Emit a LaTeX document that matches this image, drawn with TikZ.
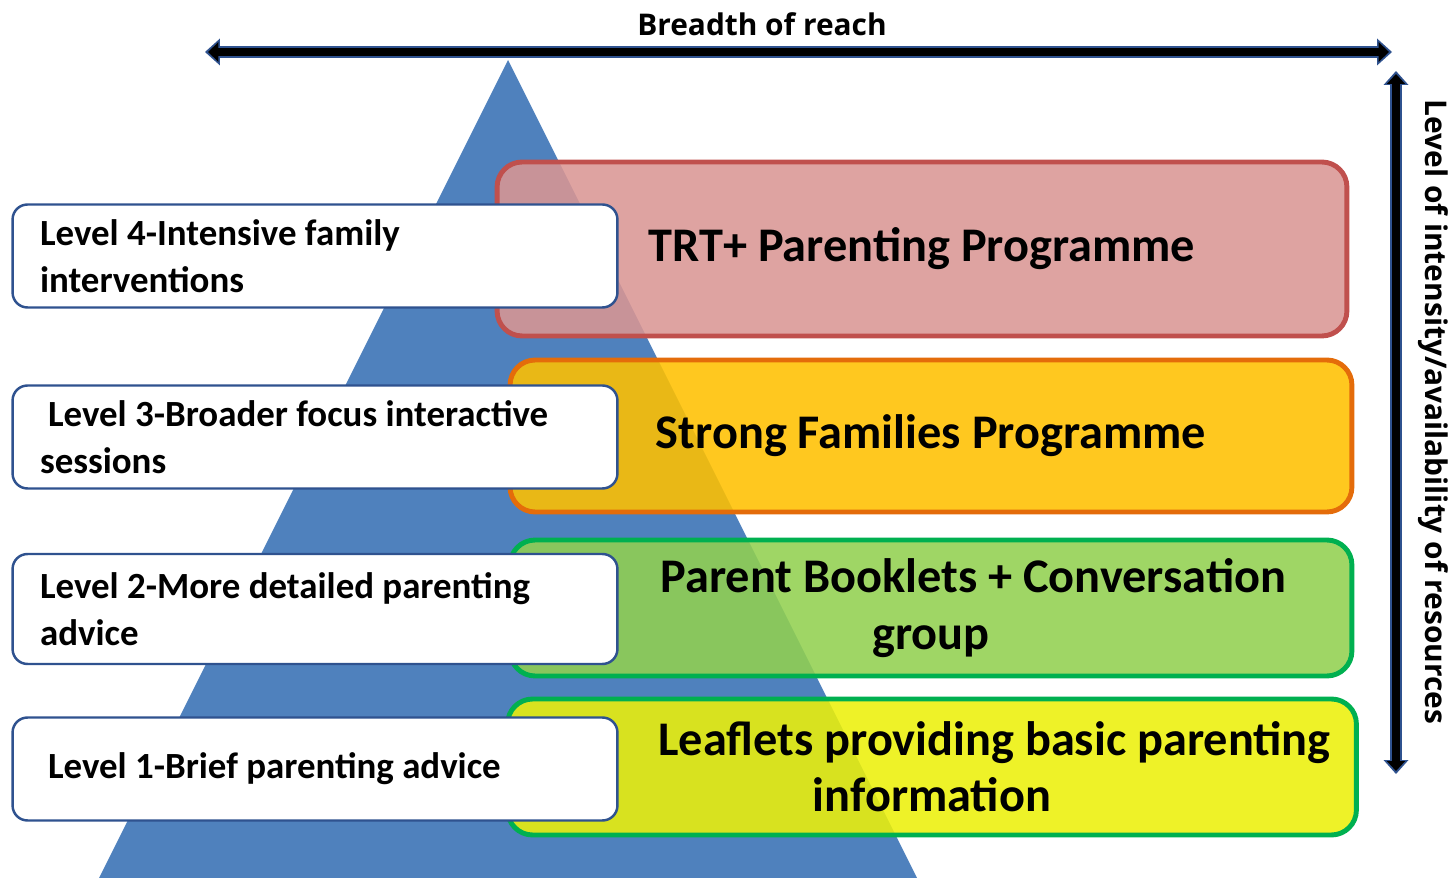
\documentclass[tikz,border=0pt]{standalone}
\usepackage{fontspec}
\setmainfont{Carlito}
\newfontfamily\headfont{Open Sans}
\usetikzlibrary{arrows.meta,positioning}

\definecolor{triblue}{RGB}{79,129,189}
\definecolor{edgeblue}{RGB}{47,82,143}
\definecolor{redfill}{RGB}{217,150,148}
\definecolor{redline}{RGB}{192,80,77}
\definecolor{orangefill}{RGB}{255,192,0}
\definecolor{orangeline}{RGB}{228,108,10}
\definecolor{greenfill}{RGB}{146,208,80}
\definecolor{greenline}{RGB}{0,176,80}
\definecolor{yellowfill}{RGB}{236,240,10}

\begin{document}
\begin{tikzpicture}[
    x = 0.02cm, y = -0.02cm, % pixel grid, origin top left
    levelbox/.style = {draw = edgeblue, line width = 1.4pt, fill = white,
        rounded corners = 0.3cm, minimum width = 12.1cm, minimum height = 2.06cm,
        text width = 11cm, align = flush left, inner xsep = 0.5cm,
        font = \bfseries\fontsize{21}{26.7}\selectfont},
    progbox/.style = {line width = 2.8pt, fill opacity = 0.88, text opacity = 1,
        rounded corners = 0.5cm, align = center,
        font = \bfseries\fontsize{27.5}{32}\selectfont},
    axislabel/.style = {font = \headfont\bfseries\fontsize{17}{20}\selectfont}
    ]

    \useasboundingbox (0,0) rectangle (1455,878);

    % pyramid
    \fill[triblue] (508,60) -- (917,878) -- (99,878) -- cycle;

    % programmes
    \node[progbox, draw = redline, fill = redfill,
        minimum width = 17cm, minimum height = 3.48cm] (trt) at (922,249)
        {TRT+ Parenting Programme};
    \node[progbox, draw = orangeline, fill = orangefill,
        minimum width = 16.84cm, minimum height = 3.04cm] (strong) at (931,436)
        {Strong Families Programme};
    \node[progbox, draw = greenline, fill = greenfill,
        minimum width = 16.84cm, minimum height = 2.72cm] (booklets) at (931,608)
        {\hspace*{1.7cm}Parent Booklets + Conversation\\group};
    \node[progbox, draw = greenline, fill = yellowfill,
        minimum width = 16.98cm, minimum height = 2.72cm] (leaflets) at (932,767)
        {\hspace*{2.5cm}Leaflets providing basic parenting\\information};

    % levels
    \node[levelbox] (lvl4) at (315,256) {Level 4-Intensive family\\interventions};
    \node[levelbox] (lvl3) at (315,437) {\hspace*{0.16cm}Level 3-Broader focus interactive\\sessions};
    \node[levelbox, minimum height = 2.2cm] (lvl2) at (315,609) {Level 2-More detailed parenting\\advice};
    \node[levelbox] (lvl1) at (315,769) {\hspace*{0.16cm}Level 1-Brief parenting advice};

    % axes
    \coordinate (reachL) at (205,52);
    \coordinate (reachR) at (1392,52);
    \coordinate (intT) at (1396,71);
    \coordinate (intB) at (1396,774);

    \draw[edgeblue, line width = 0.24cm,
        {Triangle[width=0.54cm,length=0.3cm,line width=0pt]}-{Triangle[width=0.54cm,length=0.3cm,line width=0pt]}]
        (reachL) -- (reachR);
    \draw[black, line width = 0.15cm, shorten < = 0.06cm, shorten > = 0.06cm,
        {Triangle[width=0.4cm,length=0.21cm,line width=0pt]}-{Triangle[width=0.4cm,length=0.21cm,line width=0pt]}]
        (reachL) -- (reachR);
    \draw[edgeblue, line width = 0.24cm,
        {Triangle[width=0.5cm,length=0.28cm,line width=0pt]}-{Triangle[width=0.5cm,length=0.28cm,line width=0pt]}]
        (intT) -- (intB);
    \draw[black, line width = 0.15cm, shorten < = 0.06cm, shorten > = 0.06cm,
        {Triangle[width=0.37cm,length=0.2cm,line width=0pt]}-{Triangle[width=0.37cm,length=0.2cm,line width=0pt]}]
        (intT) -- (intB);

    \node[axislabel] (reach) at (762,24) {Breadth of reach};
    \node[axislabel, rotate = -90] (intensity) at (1433,412)
        {Level of intensity/availability of resources};
\end{tikzpicture}
\end{document}
